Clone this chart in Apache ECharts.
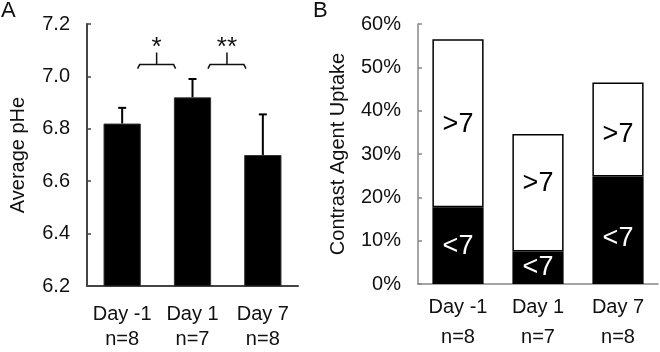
<!DOCTYPE html>
<html>
<head>
<meta charset="utf-8">
<script src="https://cdn.jsdelivr.net/npm/echarts@6/dist/echarts.min.js"></script>
<style>
  html, body { margin: 0; padding: 0; background: #fff; }
  #chart { width: 660px; height: 352px; }
</style>
</head>
<body>
<div id="chart"></div>
<script>
// ---- data ----
const categories = ['Day -1\nn=8', 'Day 1\nn=7', 'Day 7\nn=8'];
// Panel A: average pHe with error (upper whisker)
const phMeans = [6.82, 6.92, 6.70];
const phErrors = [0.06, 0.07, 0.155];
const phTicks = [6.2, 6.4, 6.6, 6.8, 7.0, 7.2];
// significance brackets (category index pairs), level and labels
const sigPairs = [[0, 1], [1, 2]];
const sigLevel = [7.045, 7.045];
const sigLabels = ['*', '**'];
// Panel B: contrast agent uptake (%), stacked
const uptakeBelow7 = [17.7, 7.5, 24.8];
const uptakeAbove7 = [38.8, 27.1, 21.7];
const uptakeTicks = [0, 10, 20, 30, 40, 50, 60];

const FONT = 'Liberation Sans, Arial, Helvetica, sans-serif';
const chart = echarts.init(document.getElementById('chart'));

const errData = phMeans.map((m, i) => [i, m, phErrors[i]]);
const sigData = sigPairs.map((p, i) => [p[0], p[1], sigLevel[i]]);

// small label nudges (styling only)
const aboveNudge = [1, -9, 5];
const belowNudge = [1, 0, 8];

const option = {
  animation: false,
  backgroundColor: '#fff',
  textStyle: { fontFamily: FONT },
  title: [
    { text: 'A', left: 1, top: 0, padding: 0, textStyle: { fontSize: 22, fontWeight: 'normal', color: '#111', fontFamily: FONT } },
    { text: 'B', left: 313, top: 0, padding: 0, textStyle: { fontSize: 22, fontWeight: 'normal', color: '#111', fontFamily: FONT } }
  ],
  grid: [
    { left: 87, top: 24, width: 211, height: 268 },
    { left: 418, top: 24, width: 240, height: 266 }
  ],
  xAxis: [
    {
      type: 'category', gridIndex: 0, data: categories,
      axisLine: { lineStyle: { color: '#444', width: 2 } },
      axisTick: { show: false },
      axisLabel: { interval: 0, fontSize: 20, lineHeight: 25, margin: 16, color: '#111', fontFamily: FONT }
    },
    {
      type: 'category', gridIndex: 1, data: categories,
      axisLine: { lineStyle: { color: '#888', width: 1.5 } },
      axisTick: { show: false },
      axisLabel: { interval: 0, fontSize: 20, lineHeight: 30, margin: 8, color: '#111', fontFamily: FONT }
    }
  ],
  yAxis: [
    {
      type: 'value', gridIndex: 0,
      min: phTicks[0], max: phTicks[phTicks.length - 1], interval: 0.2,
      axisLine: { show: true, lineStyle: { color: '#444', width: 2 } },
      axisTick: { show: true, inside: true, length: 4, lineStyle: { color: '#444', width: 1.5 } },
      splitLine: { show: false },
      axisLabel: { fontSize: 20, margin: 17, color: '#111', fontFamily: FONT, formatter: v => v.toFixed(1) },
      name: 'Average pHe', nameLocation: 'middle', nameGap: 59,
      nameTextStyle: { fontSize: 20, color: '#111', fontFamily: FONT }
    },
    {
      type: 'value', gridIndex: 1,
      min: uptakeTicks[0], max: uptakeTicks[uptakeTicks.length - 1], interval: 10,
      axisLine: { show: true, lineStyle: { color: '#888', width: 1.5 } },
      axisTick: { show: true, inside: true, length: 4, lineStyle: { color: '#888', width: 1.5 } },
      splitLine: { show: false },
      axisLabel: { fontSize: 20, margin: 17, color: '#111', fontFamily: FONT, formatter: v => v + '%' },
      name: 'Contrast Agent Uptake', nameLocation: 'middle', nameGap: 70,
      nameTextStyle: { fontSize: 20, color: '#111', fontFamily: FONT }
    }
  ],
  series: [
    {
      type: 'bar', xAxisIndex: 0, yAxisIndex: 0, data: phMeans,
      barWidth: '53%',
      itemStyle: { color: '#000', borderColor: '#333', borderWidth: 1 }
    },
    {
      type: 'custom', xAxisIndex: 0, yAxisIndex: 0, data: errData, clip: false,
      encode: { x: 0, y: [1, 2] },
      renderItem: function (params, api) {
        const x = api.value(0), m = api.value(1), e = api.value(2);
        const p0 = api.coord([x, m]);
        const p1 = api.coord([x, m + e]);
        const st = { stroke: '#000', lineWidth: 2 };
        return {
          type: 'group', children: [
            { type: 'line', shape: { x1: p0[0], y1: p0[1], x2: p1[0], y2: p1[1] }, style: st },
            { type: 'line', shape: { x1: p1[0] - 4, y1: p1[1], x2: p1[0] + 4, y2: p1[1] }, style: st }
          ]
        };
      }
    },
    {
      type: 'custom', xAxisIndex: 0, yAxisIndex: 0, data: sigData, clip: false,
      encode: { x: [0, 1], y: 2 },
      renderItem: function (params, api) {
        const lvl = api.value(2);
        const a = api.coord([api.value(0), lvl]);
        const b = api.coord([api.value(1), lvl]);
        const band = api.size([1, 0])[0];
        const x1 = a[0] + 0.22 * band, x2 = b[0] - 0.24 * band;
        const xm = (x1 + x2) / 2, y = a[1];
        return {
          type: 'group', children: [
            {
              type: 'polyline',
              shape: { points: [[x1, y + 4], [x1 + 2, y], [xm, y], [xm, y - 12], [xm, y], [x2 - 2, y], [x2, y + 4]] },
              style: { stroke: '#111', lineWidth: 1.5, fill: null }
            },
            {
              type: 'text',
              style: { x: xm, y: y - 17, text: sigLabels[params.dataIndex], fill: '#111',
                font: '26px ' + FONT, align: 'center', verticalAlign: 'middle' }
            }
          ]
        };
      }
    },
    {
      type: 'bar', xAxisIndex: 1, yAxisIndex: 1, stack: 'u', name: '<7',
      data: uptakeBelow7.map((v, i) => ({ value: v, label: { offset: [0, belowNudge[i]] } })),
      barWidth: '64%',
      itemStyle: { color: '#000', borderColor: '#000', borderWidth: 1.5 },
      label: { show: true, position: 'inside', formatter: '<7', color: '#fff', fontSize: 27, fontFamily: FONT }
    },
    {
      type: 'bar', xAxisIndex: 1, yAxisIndex: 1, stack: 'u', name: '>7',
      data: uptakeAbove7.map((v, i) => ({ value: v, label: { offset: [0, aboveNudge[i]] } })),
      barWidth: '64%',
      itemStyle: { color: '#fff', borderColor: '#000', borderWidth: 1.5 },
      label: { show: true, position: 'inside', formatter: '>7', color: '#000', fontSize: 27, fontFamily: FONT }
    }
  ]
};
chart.setOption(option);
</script>
</body>
</html>
